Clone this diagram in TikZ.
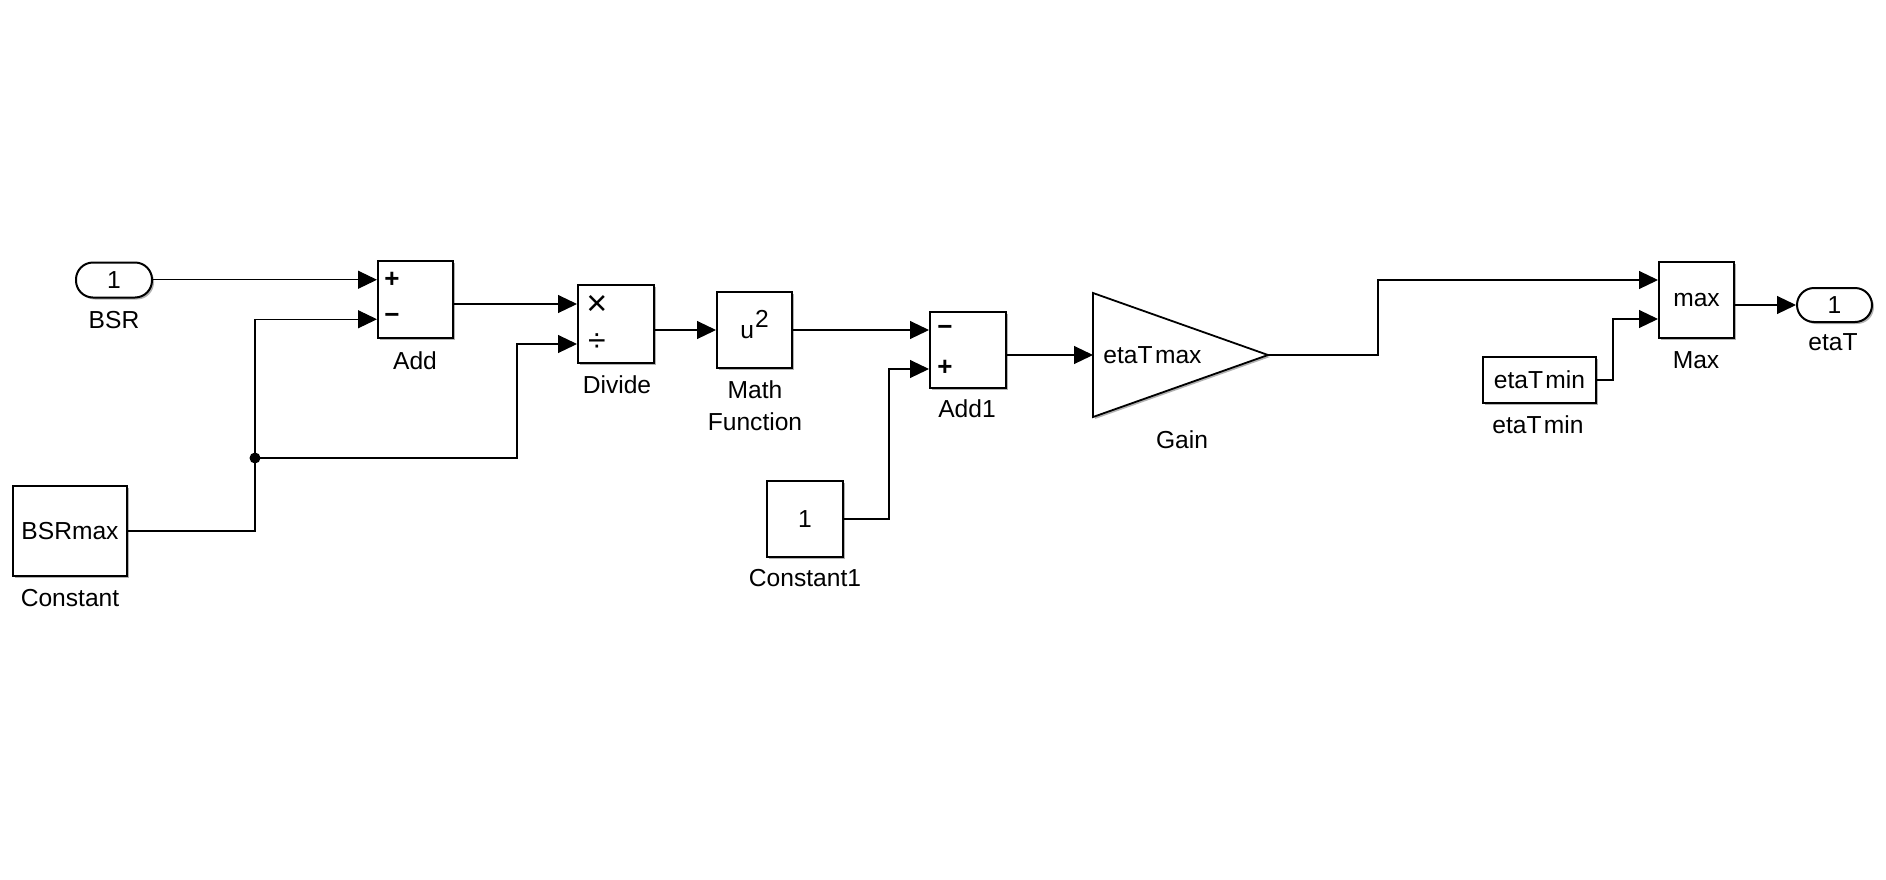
\documentclass[tikz,border=0pt]{standalone}
\usepackage{fontspec}
\setmainfont{Liberation Sans}
\usetikzlibrary{arrows.meta,calc,shadows}
\begin{document}
\begin{tikzpicture}[x=0.5pt,y=-0.5pt,
  font=\fontsize{12.3}{14}\selectfont,
  wire/.style={line width=0.55pt,-{Triangle[length=9.5pt,width=9pt]}},
  blk/.style 2 args={draw,line width=1pt,fill=white,inner sep=0pt,
    minimum width=#1*0.5pt,minimum height=#2*0.5pt,
    drop shadow={shadow xshift=1pt,shadow yshift=-1pt,opacity=0.3,fill=black}},
  pill/.style={rounded corners=8.5pt},
  lbl/.style={anchor=base,inner sep=0pt},
  sgn/.style={inner sep=0pt,font=\fontsize{13}{13}\selectfont\bfseries},
]
\useasboundingbox (0,0) rectangle (1886,879);

% ---------- blocks ----------
\node[blk={76}{35},pill] (bsr) at (114,280) {1};
\node[blk={114}{90}] (const) at (70,531) {BSRmax};
\node[blk={75}{77}] (add) at (415.5,299.5) {};
\node[blk={76}{78}] (div) at (616,324) {};
\node[blk={75}{76}] (mf) at (754.5,330) {};
\node[blk={76}{76}] (c1) at (805,519) {1};
\node[blk={76}{76}] (add1) at (968,349.5) {};
\node[blk={75}{76}] (max) at (1696.5,299.5) {max};
\node[blk={113}{46}] (tmin) at (1539.5,380) {etaT\kern1.2pt min};
\node[blk={75}{34},pill] (etat) at (1834.5,305) {1};

% gain triangle
\coordinate (gin) at (1093,355);
\coordinate (gout) at (1268,355);
\path[draw,line width=0.9pt,fill=white,
  drop shadow={shadow xshift=1pt,shadow yshift=-1pt,opacity=0.3,fill=black}]
  (1093,293) -- (gout) -- (1093,417) -- cycle;
\node[anchor=west,inner sep=0pt] (gaintxt) at (1103,355) {etaT\kern1.2pt max};

% ---------- block contents ----------
\node[sgn] (addp) at (392,280) {+};
\node[sgn] (addm) at (392,318.5) {\char"2212};
\node[inner sep=0pt,font=\fontsize{18}{18}\selectfont] (divx) at (597,305) {×};
\node[inner sep=0pt,font=\fontsize{16}{16}\selectfont] (divd) at (597,343) {÷};
\node[anchor=base west,inner sep=0pt] (mftxt) at (740,338) {u\kern0.5pt\raisebox{5.5pt}{2}};
\node[sgn] (a1m) at (945,330.5) {\char"2212};
\node[sgn] (a1p) at (945,368) {+};

% ---------- labels ----------
\node[lbl] (bsrL) at (114,328) {BSR};
\node[lbl] (constL) at (70,606) {Constant};
\node[lbl] (addL) at (415,369) {Add};
\node[lbl] (divL) at (617,393) {Divide};
\node[lbl] (mfL1) at (755,398) {Math};
\node[lbl] (mfL2) at (755,430) {Function};
\node[lbl] (add1L) at (967,417) {Add1};
\node[lbl] (c1L) at (805,586) {Constant1};
\node[lbl] (gainL) at (1182,448) {Gain};
\node[lbl] (maxL) at (1696,368) {Max};
\node[lbl] (tminL) at (1538,433) {etaT\kern1.2pt min};
\node[lbl] (etatL) at (1833,350) {etaT};

% ---------- ports ----------
\coordinate (addi1) at ($(add.north west)!0.25!(add.south west)$);
\coordinate (addi2) at ($(add.north west)!0.75!(add.south west)$);
\coordinate (divi1) at ($(div.north west)!0.25!(div.south west)$);
\coordinate (divi2) at ($(div.north west)!0.75!(div.south west)$);
\coordinate (a1i1) at ($(add1.north west)!0.25!(add1.south west)$);
\coordinate (a1i2) at ($(add1.north west)!0.75!(add1.south west)$);
\coordinate (maxi1) at ($(max.north west)!0.25!(max.south west)$);
\coordinate (maxi2) at ($(max.north west)!0.75!(max.south west)$);

% bend points of the routed lines
\coordinate (bc) at (255,400);
\coordinate (junc) at (255,458);
\coordinate (bd) at (517,400);
\coordinate (bk) at (889,450);
\coordinate (bg) at (1378,320);
\coordinate (bm) at (1613,350);

% ---------- connectors ----------
\draw[wire] (bsr.east |- addi1) -- (addi1);
\draw[wire] (const.east) -| (bc) |- (addi2);
\draw[wire] (junc) -| (bd) |- (divi2);
\fill (junc) circle (5.5);
\draw[wire] (add.east |- divi1) -- (divi1);
\draw[wire] (div.east |- mf.west) -- (mf.west);
\draw[wire] (mf.east |- a1i1) -- (a1i1);
\draw[wire] (c1.east) -| (bk) |- (a1i2);
\draw[wire] (add1.east |- gin) -- (gin);
\draw[wire] (gout) -| (bg) |- (maxi1);
\draw[wire] (tmin.east) -| (bm) |- (maxi2);
\draw[wire] (max.east |- etat.west) -- (etat.west);
\end{tikzpicture}
\end{document}
